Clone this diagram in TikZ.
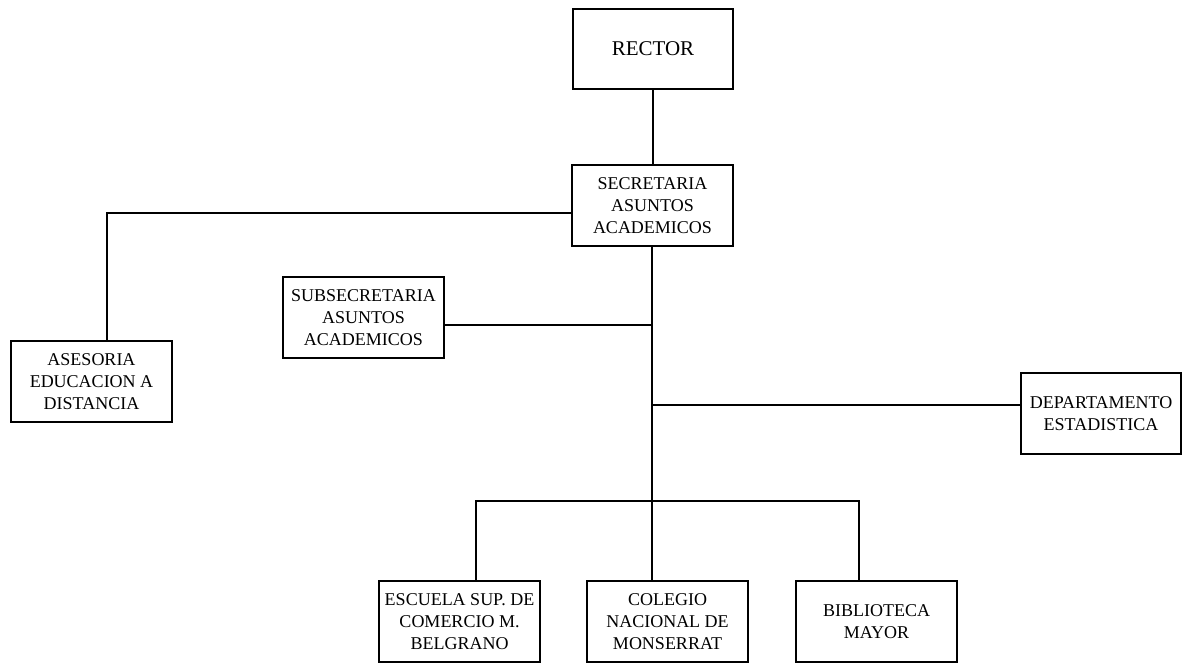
\documentclass[tikz,border=0pt]{standalone}
\usepackage{fontspec}
\setmainfont{Liberation Serif}
\usetikzlibrary{positioning}

\begin{document}
\begin{tikzpicture}[x=1pt,y=-1pt,
 b/.style={draw=black,line width=1.6pt,align=center,minimum width=161pt,minimum height=81pt,inner sep=0pt,font=\fontsize{18}{22}\selectfont},
 ln/.style={draw=black,line width=1.6pt}]
\useasboundingbox (0,0) rectangle (1183,666);
\node[b,font=\fontsize{21}{24}\selectfont,minimum width=160pt,minimum height=80pt] (rector) at (653,49) {RECTOR};
\node[b] (sec) at (652.5,205.5) {SECRETARIA\\ASUNTOS\\ACADEMICOS};
\node[b] (ases) at (91.5,381.5) {ASESORIA\\EDUCACION A\\DISTANCIA};
\node[b] (sub) at (363.5,317.5) {SUBSECRETARIA\\ASUNTOS\\ACADEMICOS};
\node[b,minimum width=160pt] (dep) at (1101,413.5) {DEPARTAMENTO\\ESTADISTICA};
\node[b] (esc) at (459.5,621.5) {ESCUELA SUP. DE\\COMERCIO M.\\BELGRANO};
\node[b] (col) at (667.5,621.5) {COLEGIO\\NACIONAL DE\\MONSERRAT};
\node[b] (bib) at (876.5,621.5) {BIBLIOTECA\\MAYOR};
% junctions on the trunk
\coordinate (jl) at (107,213);
\coordinate (js) at (652,325);
\coordinate (jd) at (652,405);
\coordinate (tb) at (652,501);
\coordinate (bl) at (476,501);
\coordinate (br) at (859,501);
\draw[ln] (rector.south)--(rector.south |- sec.north);
\draw[ln] (sec.west |- jl)--(jl)--(jl |- ases.north);
\draw[ln] (tb |- sec.south)--(tb)--(tb |- col.north);
\draw[ln] (sub.east |- js)--(js);\draw[ln] (jd)--(dep.west |- jd);
\draw[ln] (bl |- esc.north)--(bl)--(br)--(br |- bib.north);
\end{tikzpicture}
\end{document}
